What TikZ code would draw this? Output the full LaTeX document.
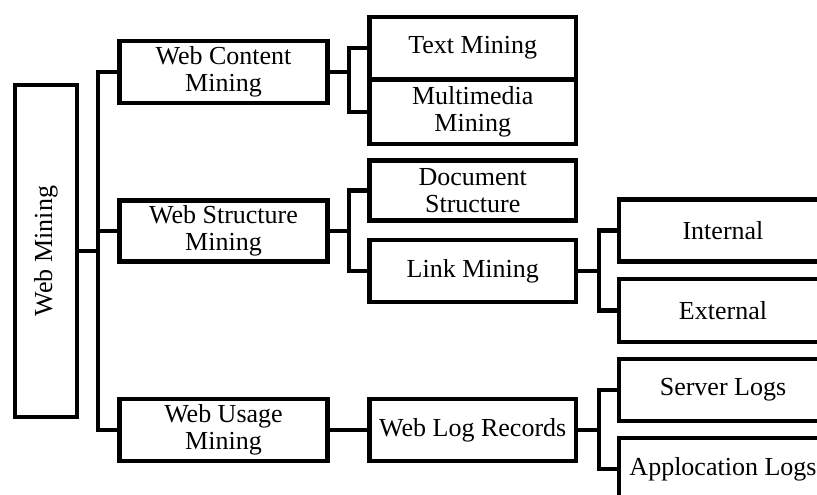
\documentclass[tikz,border=0pt]{standalone}
\usepackage{fontspec}
\setmainfont{Liberation Serif}
\begin{document}
\begin{tikzpicture}[x=1pt,y=-1pt,
  box/.style={draw, line width=4.2pt, inner sep=0pt, outer sep=0pt, align=center,
    font=\fontsize{26}{26.5}\selectfont},
  lbl/.style={inner sep=0pt, font=\fontsize{26}{26.5}\selectfont},
  link/.style={line width=4.2pt}]
\clip (0,0) rectangle (817,495);
\useasboundingbox (0,0) rectangle (817,495);

% root
\node[box, minimum width=62pt, minimum height=332pt] (wm) at (46,251) {};
\node[lbl, rotate=90] (wmlabel) at (wm.center) {Web Mining};

% first level
\node[box, minimum width=208pt, minimum height=62.5pt] (wcm) at (223.5,72) {Web Content\\Mining};
\node[box, minimum width=208pt, minimum height=61pt] (wsm) at (223.5,231) {Web Structure\\Mining};
\node[box, minimum width=208pt, minimum height=61.5pt] (wum) at (223.5,430) {Web Usage\\Mining};

% second level
\node[box, minimum width=206.5pt, minimum height=62.5pt] (tm) at (472.75,48) {Text Mining};
\node[box, minimum width=206.5pt, minimum height=64.5pt] (mm) at (472.75,112) {Multimedia\\Mining};
\node[box, minimum width=206.5pt, minimum height=60pt] (ds) at (472.75,190.5) {Document\\Structure};
\node[box, minimum width=206.5pt, minimum height=62.5pt] (lm) at (472.75,271) {Link Mining};
\node[box, minimum width=206.5pt, minimum height=61.5pt] (wlr) at (472.75,430) {Web Log Records};

% third level
\node[box, minimum width=208pt, minimum height=62pt] (int) at (723,230.5) {Internal};
\node[box, minimum width=208pt, minimum height=63pt] (ext) at (723,310.5) {External};
\node[box, minimum width=208pt, minimum height=62pt] (srv) at (723,390) {Server Logs};
\node[box, minimum width=208pt, minimum height=62pt] (app) at (723,469) {Applocation Logs};

% connectors
\draw[link] (wm.east) -- ++(21,0) |- (wcm.west);
\draw[link] (wm.east) -- ++(21,0) |- (wsm.west);
\draw[link] (wm.east) -- ++(21,0) |- (wum.west);

\draw[link] (wcm.east) -- ++(21.5,0) |- (tm.west);
\draw[link] (wcm.east) -- ++(21.5,0) |- (mm.west);

\draw[link] (wsm.east) -- ++(21.5,0) |- (ds.west);
\draw[link] (wsm.east) -- ++(21.5,0) |- (lm.west);

\draw[link] (wum.east) -- (wlr.west);

\draw[link] (lm.east) -- ++(23,0) |- (int.west);
\draw[link] (lm.east) -- ++(23,0) |- (ext.west);

\draw[link] (wlr.east) -- ++(23,0) |- (srv.west);
\draw[link] (wlr.east) -- ++(23,0) |- (app.west);
\end{tikzpicture}
\end{document}
